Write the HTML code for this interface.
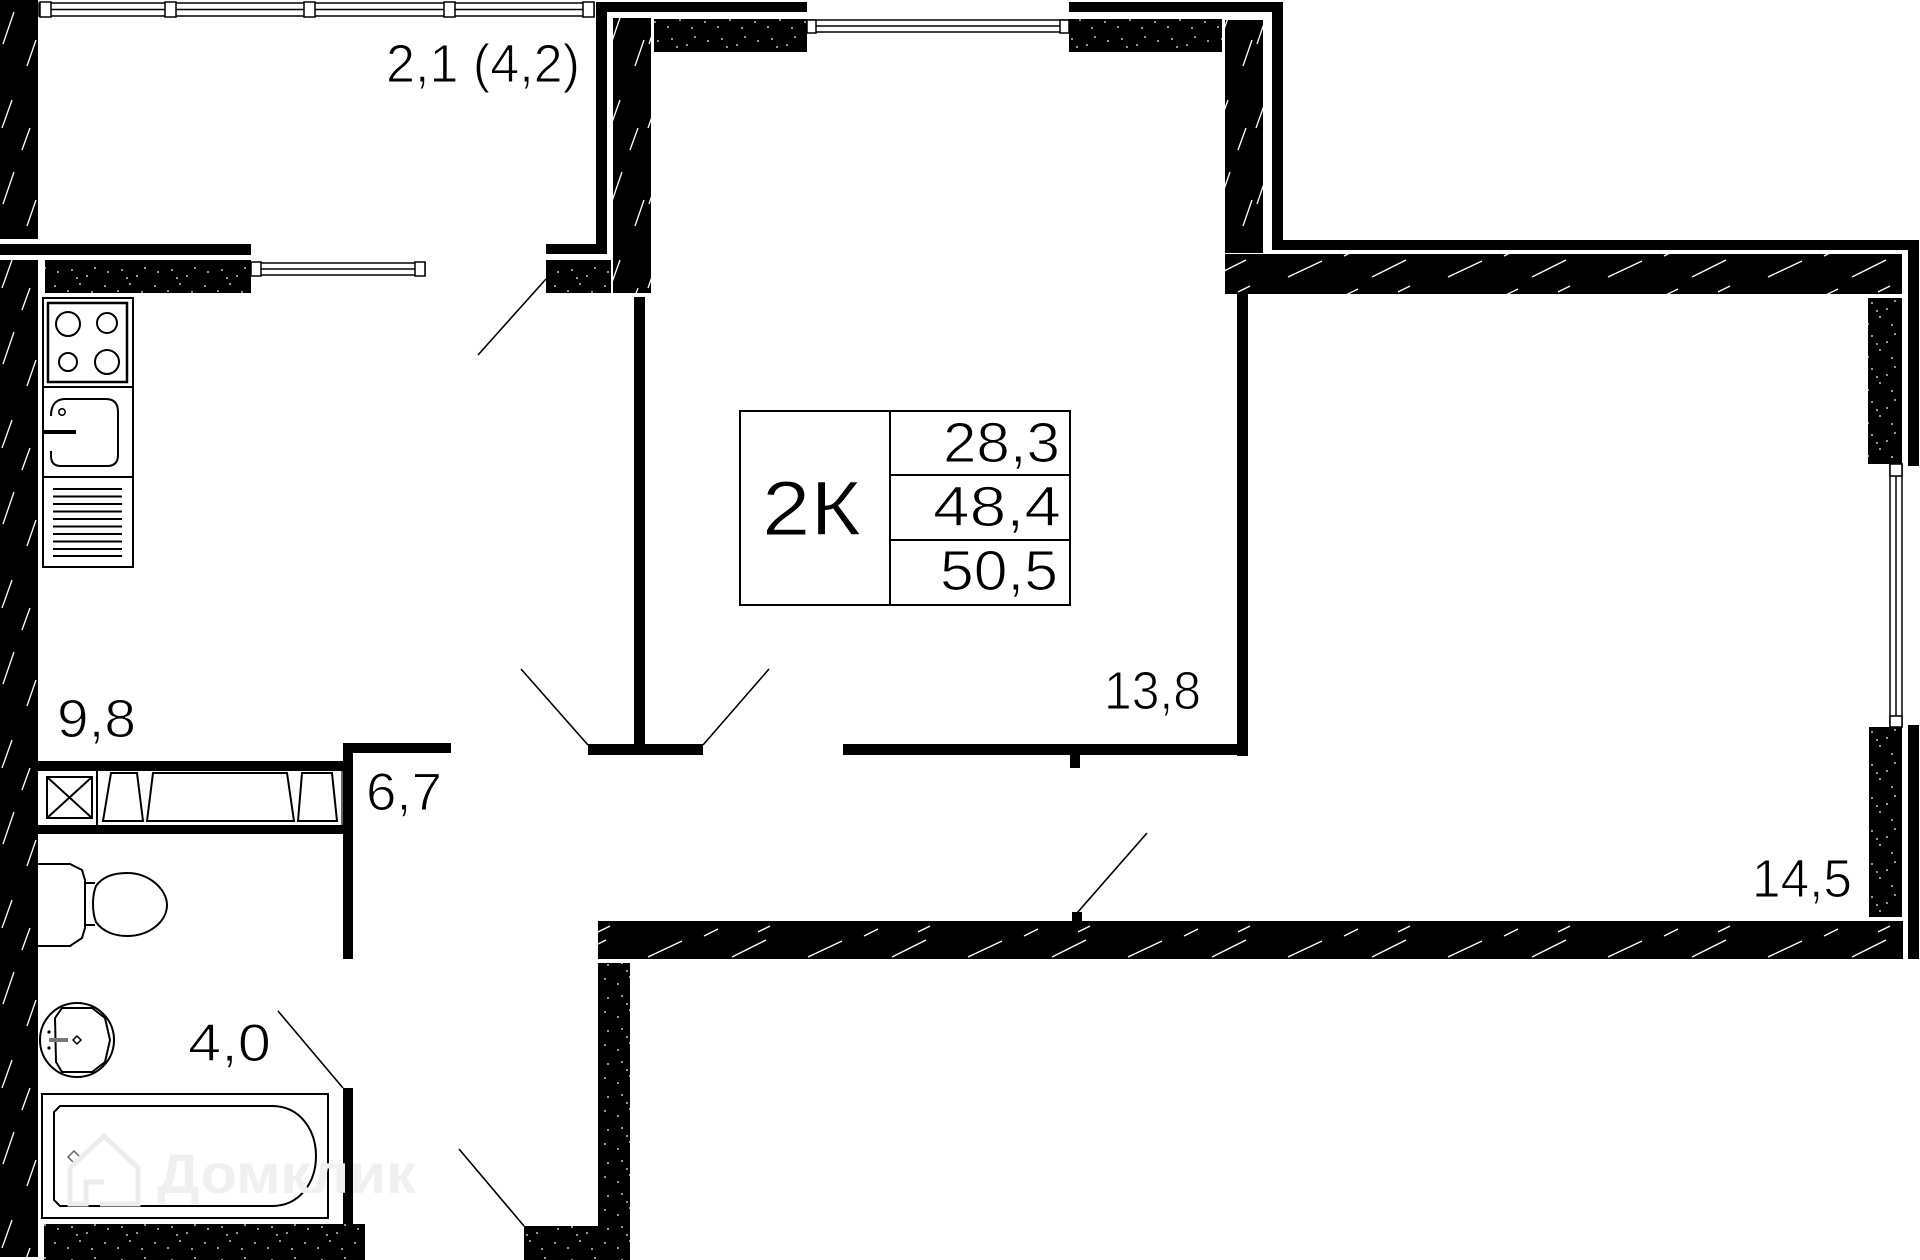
<!DOCTYPE html>
<html><head><meta charset="utf-8">
<style>
html,body{margin:0;padding:0;background:#fff;}
body{width:1920px;height:1260px;overflow:hidden;}
svg{display:block;}
text{font-family:"Liberation Sans",sans-serif;fill:#000;}
.lbl{stroke:#fff;stroke-width:1.1px;}
</style></head>
<body>
<svg width="1920" height="1260" viewBox="0 0 1920 1260" xmlns="http://www.w3.org/2000/svg">
<defs>
  <pattern id="hv" patternUnits="userSpaceOnUse" width="38" height="160">
    <rect width="38" height="160" fill="#000"/>
    <path d="M3 44 L14 12 M27 66 L36 40 M2 128 L12 100 M22 150 L30 128" stroke="#fff" stroke-width="1.3"/>
  </pattern>
  <pattern id="hh" patternUnits="userSpaceOnUse" width="160" height="40">
    <rect width="160" height="40" fill="#000"/>
    <path d="M8 37 L42 21 M64 16 L78 9 M92 37 L126 20 M118 12 L130 6" stroke="#fff" stroke-width="1.3"/>
  </pattern>
  <pattern id="st" patternUnits="userSpaceOnUse" width="50" height="33">
    <rect width="50" height="33" fill="#000"/>
    <g fill="#fff">
      <circle cx="8" cy="8" r="0.9"/><circle cx="22" cy="6" r="0.9"/><circle cx="37" cy="12" r="0.9"/>
      <circle cx="45" cy="4" r="0.9"/><circle cx="5" cy="22" r="0.9"/><circle cx="18" cy="27" r="0.9"/>
      <circle cx="30" cy="20" r="0.9"/><circle cx="42" cy="28" r="0.9"/><circle cx="27" cy="14" r="0.9"/>
    </g>
  </pattern>
</defs>

<!-- Hatched walls -->
<rect x="0" y="0" width="38" height="239" fill="url(#hv)"/>
<rect x="0" y="260" width="38" height="997" fill="url(#hv)"/>
<rect x="613" y="18" width="38" height="275" fill="url(#hv)"/>
<rect x="1225" y="20" width="38" height="233" fill="url(#hv)"/>
<rect x="1225" y="254" width="677" height="40" fill="url(#hh)"/>
<rect x="598" y="921" width="1305" height="38" fill="url(#hh)"/>

<!-- Stippled walls -->
<rect x="45" y="260" width="206" height="33" fill="url(#st)"/>
<rect x="546" y="260" width="65" height="33" fill="url(#st)"/>
<rect x="654" y="19" width="153" height="33" fill="url(#st)"/>
<rect x="1069" y="19" width="153" height="33" fill="url(#st)"/>
<rect x="1868" y="298" width="34" height="166" fill="url(#st)"/>
<rect x="1869" y="727" width="33" height="190" fill="url(#st)"/>
<rect x="44" y="1224" width="321" height="36" fill="url(#st)"/>
<rect x="524" y="1226" width="74" height="34" fill="url(#st)"/>
<rect x="598" y="963" width="32" height="297" fill="url(#st)"/>

<!-- Thin solid walls -->
<g fill="#000">
  <rect x="596" y="2" width="211" height="10"/>
  <rect x="596" y="2" width="11" height="252"/>
  <rect x="546" y="244" width="61" height="10"/>
  <rect x="0" y="244" width="251" height="11"/>
  <rect x="1069" y="2" width="214" height="10"/>
  <rect x="1272" y="2" width="11" height="248"/>
  <rect x="1272" y="240" width="647" height="10"/>
  <rect x="1908" y="240" width="11" height="226"/>
  <rect x="1908" y="725" width="11" height="234"/>
  <rect x="634" y="297" width="11" height="458"/>
  <rect x="588" y="744" width="115" height="11"/>
  <rect x="1237" y="294" width="11" height="462"/>
  <rect x="843" y="744" width="405" height="11"/>
  <rect x="1070" y="755" width="10" height="13"/>
  <rect x="1072" y="912" width="10" height="10"/>
  <rect x="38" y="761" width="315" height="10"/>
  <rect x="38" y="825" width="305" height="9"/>
  <rect x="343" y="743" width="10" height="216"/>
  <rect x="343" y="743" width="108" height="10"/>
  <rect x="343" y="1088" width="10" height="136"/>
</g>

<!-- Door swing lines -->
<g stroke="#000" stroke-width="1.6" fill="none">
  <line x1="546" y1="279" x2="478" y2="355"/>
  <line x1="521" y1="669" x2="588" y2="745"/>
  <line x1="769" y1="669" x2="703" y2="745"/>
  <line x1="1147" y1="833" x2="1077" y2="913"/>
  <line x1="278" y1="1011" x2="343" y2="1088"/>
  <line x1="459" y1="1149" x2="524" y2="1226"/>
</g>

<!-- Windows -->
<g fill="#fff" stroke="#000" stroke-width="1.5">
  <rect x="39" y="3" width="555" height="13"/>
  <line x1="39" y1="9.5" x2="594" y2="9.5"/>
  <rect x="40" y="2" width="11" height="15"/>
  <rect x="165" y="2" width="11" height="15"/>
  <rect x="304" y="2" width="11" height="15"/>
  <rect x="444" y="2" width="11" height="15"/>
  <rect x="583" y="2" width="11" height="15"/>

  <rect x="251" y="263" width="174" height="12"/>
  <line x1="251" y1="269" x2="425" y2="269"/>
  <rect x="251" y="262" width="10" height="14"/>
  <rect x="415" y="262" width="10" height="14"/>

  <rect x="807" y="20" width="262" height="12"/>
  <line x1="807" y1="26" x2="1069" y2="26"/>
  <rect x="807" y="20" width="9" height="13"/>
  <rect x="1060" y="20" width="9" height="13"/>

  <rect x="1890" y="464" width="12" height="263"/>
  <line x1="1896" y1="464" x2="1896" y2="727"/>
  <rect x="1890" y="464" width="12" height="12"/>
  <rect x="1890" y="716" width="12" height="11"/>
</g>

<!-- Kitchen furniture -->
<g fill="none" stroke="#000" stroke-width="2">
  <rect x="43" y="298" width="90" height="89"/>
  <rect x="48" y="303" width="79" height="79" stroke-width="2.5"/>
  <circle cx="68" cy="324" r="12"/>
  <circle cx="107" cy="323" r="10"/>
  <circle cx="68" cy="362" r="9"/>
  <circle cx="107" cy="362" r="12"/>
  <rect x="43" y="387" width="90" height="90"/>
  <path d="M51 416 Q51 400 64 399 L106 399 Q118 399 118 412 L118 455 Q118 466 107 466 L61 466 Q51 466 51 456 L51 451"/>
  <circle cx="62" cy="412" r="3.2" stroke-width="1.6"/>
  <rect x="43" y="477" width="90" height="90"/>
</g>
<rect x="43" y="430" width="33" height="4" fill="#000"/>
<g stroke="#000" stroke-width="2">
  <line x1="53" y1="489" x2="122" y2="489"/>
  <line x1="53" y1="496.5" x2="122" y2="496.5"/>
  <line x1="53" y1="504" x2="122" y2="504"/>
  <line x1="53" y1="511.5" x2="122" y2="511.5"/>
  <line x1="53" y1="519" x2="122" y2="519"/>
  <line x1="53" y1="526.5" x2="122" y2="526.5"/>
  <line x1="53" y1="534" x2="122" y2="534"/>
  <line x1="53" y1="541.5" x2="122" y2="541.5"/>
  <line x1="53" y1="549" x2="122" y2="549"/>
  <line x1="53" y1="556" x2="122" y2="556"/>
</g>

<!-- Laundry row -->
<g fill="none" stroke="#000" stroke-width="2">
  <rect x="47" y="777" width="45" height="41"/>
  <line x1="47" y1="777" x2="92" y2="818"/>
  <line x1="92" y1="777" x2="47" y2="818"/>
  <line x1="97" y1="771" x2="97" y2="825"/>
  <line x1="342" y1="771" x2="342" y2="825" stroke-width="1.2"/>
  <path d="M111 773 L137 773 L143 821 L103 821 Z"/>
  <path d="M153 773 L287 773 L294 821 L147 821 Z"/>
  <path d="M302 773 L332 773 L337 821 L298 821 Z"/>
</g>

<!-- Bathroom -->
<g fill="none" stroke="#000" stroke-width="2">
  <path d="M38 864 L70 864 L82 870 L85 880 L85 928 L82 938 L70 946 L38 946"/>
  <path d="M85 883 L95 883 M85 925 L95 925"/>
  <path d="M96 886 C103 876 115 873 127 873 C150 873 167 890 167 905 C167 921 150 936 127 936 C115 936 103 932 96 922 C92 912 92 896 96 886 Z"/>
  <circle cx="77" cy="1040" r="37"/>
  <path d="M62 1008 L92 1008 L105 1018 L110 1040 L105 1062 L92 1072 L62 1072 L56 1062 L55 1018 Z"/>
  <rect x="42" y="1094" width="286" height="124"/>
  <path d="M60 1106 L272 1106 C300 1106 316 1130 316 1156 C316 1182 300 1206 272 1206 L60 1206 L54 1200 L54 1112 Z"/>
</g>
<rect x="49" y="1038" width="19" height="4" fill="#777"/>
<circle cx="49" cy="1032" r="1.6" fill="#000"/>
<circle cx="49" cy="1048" r="1.6" fill="#000"/>
<path d="M77 1036 L81 1040 L77 1044 L73 1040 Z" fill="none" stroke="#000" stroke-width="1.5"/>
<path d="M74 1151 L80 1157 L74 1163 L68 1157 Z" fill="none" stroke="#666" stroke-width="1.5"/>

<!-- Watermark -->
<g fill="none" stroke="#ececec" stroke-width="5">
  <path d="M70 1168 L104 1136 L138 1168 L138 1204 L100 1204 M70 1168 L70 1204 L86 1204 L86 1182 L104 1182"/>
</g>
<text x="157" y="1193" font-size="56" font-weight="bold" style="fill:#f0f0f0" textLength="259" lengthAdjust="spacingAndGlyphs">Домклик</text>

<!-- Summary table -->
<g fill="none" stroke="#000" stroke-width="2">
  <rect x="740" y="411" width="330" height="194"/>
  <line x1="890" y1="411" x2="890" y2="605"/>
  <line x1="890" y1="475" x2="1070" y2="475"/>
  <line x1="890" y1="540" x2="1070" y2="540"/>
</g>
<text class="lbl" x="762" y="535" font-size="77" textLength="99" lengthAdjust="spacingAndGlyphs">2К</text>
<text class="lbl" x="1060" y="462" font-size="57" text-anchor="end" textLength="117" lengthAdjust="spacingAndGlyphs">28,3</text>
<text class="lbl" x="1061" y="526" font-size="57" text-anchor="end" textLength="128" lengthAdjust="spacingAndGlyphs">48,4</text>
<text class="lbl" x="1058" y="590" font-size="57" text-anchor="end" textLength="118" lengthAdjust="spacingAndGlyphs">50,5</text>

<!-- Room labels -->
<text class="lbl" x="386" y="82" font-size="54" textLength="194" lengthAdjust="spacingAndGlyphs">2,1 (4,2)</text>
<text class="lbl" x="1104" y="709" font-size="54" textLength="97" lengthAdjust="spacingAndGlyphs">13,8</text>
<text class="lbl" x="1752" y="897" font-size="54" textLength="100" lengthAdjust="spacingAndGlyphs">14,5</text>
<text class="lbl" x="57" y="737" font-size="54" textLength="79" lengthAdjust="spacingAndGlyphs">9,8</text>
<text class="lbl" x="366" y="810" font-size="53" textLength="76" lengthAdjust="spacingAndGlyphs">6,7</text>
<text class="lbl" x="188" y="1061" font-size="53" textLength="83" lengthAdjust="spacingAndGlyphs">4,0</text>
</svg>
</body></html>
